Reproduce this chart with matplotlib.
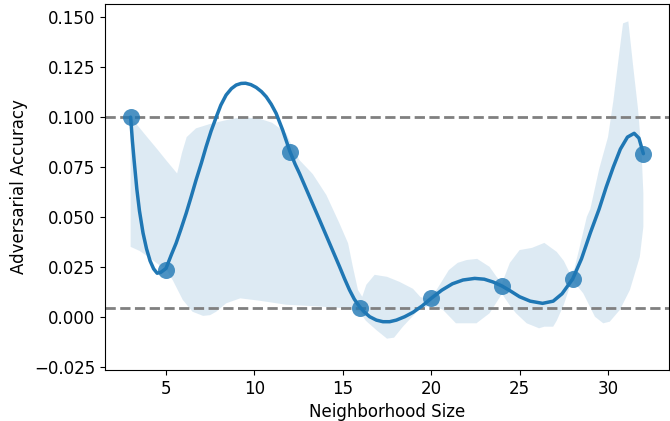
import numpy as np
import matplotlib
matplotlib.use("Agg")
import matplotlib.pyplot as plt

# scatter points
sizes = [3, 5, 12, 16, 20, 24, 28, 32]
acc = [0.100, 0.0234, 0.0827, 0.0042, 0.0092, 0.0154, 0.0189, 0.0817]

# smooth curve
curve_x = [3.0, 3.1, 3.2, 3.35, 3.5, 3.7, 3.9, 4.1, 4.3, 4.5, 4.7, 5.0, 5.3, 5.57,
           5.85, 6.14, 6.42, 6.7, 7.0, 7.27, 7.55, 7.84, 8.1, 8.4, 8.7, 8.97, 9.25,
           9.5, 9.8, 10.1, 10.4, 10.67, 10.95, 11.23, 11.6, 12.0, 12.3, 12.55, 13.12,
           13.69, 14.25, 14.82, 15.1, 15.38, 15.65, 15.95, 16.2, 16.52, 16.9, 17.27,
           17.65, 18.03, 18.5, 18.97, 19.5, 20.0, 20.6, 21.2, 21.8, 22.46, 23.0, 23.5,
           24.0, 24.5, 25.0, 25.6, 26.3, 26.9, 27.4, 28.0, 28.5, 29.0, 29.5, 29.9,
           30.3, 30.7, 31.1, 31.48, 31.75, 32.0]
curve_y = [0.100, 0.088, 0.078, 0.064, 0.053, 0.042, 0.034, 0.028, 0.024, 0.0218,
           0.0222, 0.0242, 0.031, 0.0368, 0.044, 0.0518, 0.060, 0.0685, 0.077, 0.0852,
           0.093, 0.100, 0.106, 0.1111, 0.1143, 0.1161, 0.1169, 0.1170, 0.1163, 0.1149,
           0.1128, 0.1102, 0.1065, 0.1019, 0.0935, 0.0830, 0.0765, 0.0718, 0.0601,
           0.0484, 0.0368, 0.025, 0.019, 0.0134, 0.0088, 0.0050, 0.0025, 0.0000,
           -0.0017, -0.0025, -0.0025, -0.0017, 0.0000, 0.0022, 0.0055, 0.0092, 0.0133,
           0.0165, 0.0184, 0.0192, 0.0188, 0.0174, 0.0154, 0.0128, 0.0100, 0.0078,
           0.0067, 0.0078, 0.0115, 0.0189, 0.029, 0.042, 0.054, 0.065, 0.075, 0.084,
           0.090, 0.0919, 0.0895, 0.0817]

# confidence band: upper edge
band_hi_x = [3.0, 3.5, 4.0, 4.5, 5.0, 5.63, 5.9, 6.17, 6.7, 7.46, 8.4, 9.3, 10.3, 11.0,
             11.5, 11.8, 12.2, 12.55, 13.3, 14.07, 14.8, 15.3, 15.57, 15.86, 16.1, 16.33,
             16.8, 17.5, 18.2, 18.97, 19.4, 19.8, 20.0, 20.3, 21.0, 21.5, 22.0, 22.6,
             23.3, 23.7, 24.0, 24.45, 25.0, 25.7, 26.4, 27.1, 27.5, 27.85, 28.1, 28.4,
             28.8, 29.0, 29.5, 30.0, 30.3, 30.65, 30.85, 31.15, 31.43, 31.7, 31.9, 32.0]
band_hi_y = [0.100, 0.0947, 0.0893, 0.0840, 0.0785, 0.0718, 0.082, 0.090, 0.0944, 0.0965,
             0.0985, 0.100, 0.0992, 0.0972, 0.094, 0.0919, 0.084, 0.0785, 0.0715, 0.061,
             0.047, 0.0368, 0.025, 0.0134, 0.010, 0.016, 0.021, 0.020, 0.0175, 0.0140,
             0.0098, 0.009, 0.011, 0.0134, 0.0234, 0.027, 0.0284, 0.029, 0.025, 0.020,
             0.0167, 0.027, 0.0334, 0.0345, 0.037, 0.0325, 0.028, 0.0217, 0.024, 0.035,
             0.050, 0.054, 0.074, 0.090, 0.108, 0.133, 0.147, 0.148, 0.125, 0.104,
             0.082, 0.062]

# confidence band: lower edge
band_lo_x = [3.0, 3.5, 4.0, 4.6, 5.0, 5.4, 5.95, 6.5, 7.1, 7.5, 7.84, 8.4, 9.2, 10.3,
             11.8, 13.5, 15.2, 15.95, 16.3, 16.9, 17.5, 17.9, 18.4, 19.35, 19.73, 20.0,
             20.67, 21.4, 22.56, 23.3, 23.9, 24.0, 24.5, 24.8, 25.4, 26.1, 26.4, 26.9,
             27.1, 27.5, 27.84, 28.0, 28.3, 28.6, 29.26, 29.73, 30.1, 30.67, 31.24,
             31.8, 32.0]
band_lo_y = [0.035, 0.033, 0.030, 0.026, 0.024, 0.018, 0.0084, 0.0025, 0.0004, 0.0008,
             0.0025, 0.0067, 0.0092, 0.008, 0.006, 0.0052, 0.0042, 0.0025, -0.002,
             -0.0067, -0.011, -0.0105, -0.005, 0.004, 0.005, 0.006, 0.0034, -0.0033,
             -0.0033, 0.0017, 0.010, 0.0115, 0.005, 0.0017, -0.0033, -0.0058, -0.005,
             -0.005, -0.002, 0.006, 0.015, 0.018, 0.015, 0.0117, 0.000, -0.0033, -0.0025,
             0.0034, 0.0134, 0.030, 0.045]

x_ticks = [5, 10, 15, 20, 25, 30]
y_ticks = [-0.025, 0.000, 0.025, 0.050, 0.075, 0.100, 0.125, 0.150]

plt.rcParams['font.family'] = ['DejaVu Sans']
fig = plt.figure(figsize=(6.7, 4.21), dpi=100)
ax = fig.add_axes([105 / 670, 51 / 421, 564 / 670, 366 / 421])

blue = '#1f77b4'
poly_x = np.concatenate([band_hi_x, band_lo_x[::-1]])
poly_y = np.concatenate([band_hi_y, band_lo_y[::-1]])
ax.fill(poly_x, poly_y, color=blue, alpha=0.15, linewidth=0, zorder=1)

ax.axhline(max(acc), color='gray', linestyle='--', linewidth=2, zorder=2)
ax.axhline(min(acc), color='gray', linestyle='--', linewidth=2, zorder=2)

ax.scatter(sizes, acc, s=150, color=blue, alpha=0.8, linewidths=0, zorder=3)
ax.plot(curve_x, curve_y, color=blue, linewidth=2.5, zorder=4,
        solid_joinstyle='round', solid_capstyle='round')

ax.set_xlim(1.55, 33.45)
ax.set_ylim(-0.0267, 0.1567)
ax.set_xticks(x_ticks)
ax.set_yticks(y_ticks)
ax.set_yticklabels([f"{v:.3f}".replace('-', '\u2212') for v in y_ticks])
ax.tick_params(labelsize=12)
ax.set_xlabel('Neighborhood Size', fontsize=12)
ax.set_ylabel('Adversarial Accuracy', fontsize=12)

fig.savefig('out.png', dpi=100)
